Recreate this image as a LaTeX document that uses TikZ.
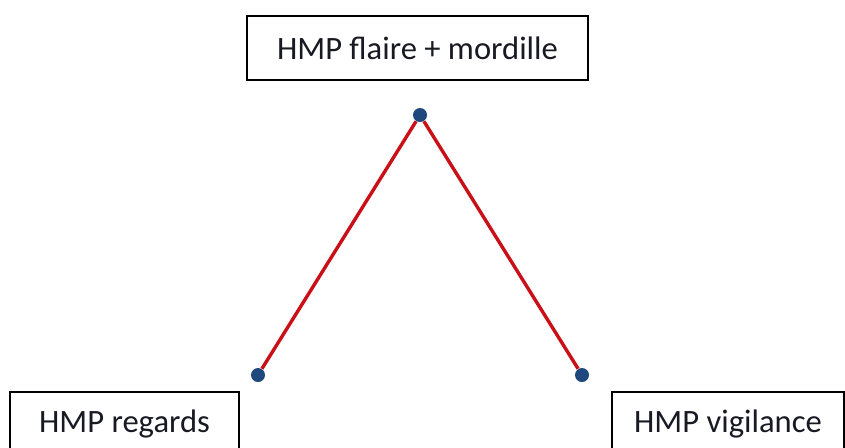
\documentclass[tikz,border=0pt]{standalone}
\usepackage{fontspec}
\setmainfont{Carlito}
\definecolor{linkred}{RGB}{200,16,22}
\definecolor{dotblue}{RGB}{31,73,125}
\definecolor{textdark}{RGB}{25,25,35}

\begin{document}
\begin{tikzpicture}[
    x=0.5pt, y=-0.5pt,
    box/.style={rectangle, draw, line width=1pt, minimum height=32pt,
                inner sep=0pt, text=textdark, font=\fontsize{16.3}{20}\selectfont},
    dot/.style={circle, fill=dotblue, inner sep=0pt, minimum size=7pt},
    link/.style={linkred, line width=1.7pt}
]
\useasboundingbox (0,0) rectangle (845,447);
\clip (0,0) rectangle (845,447);

% Kaesten
\node[box, minimum width=170.5pt] at (417.5,48) (flaire) {HMP flaire + mordille};
\node[box, minimum width=114.5pt] at (124.5,424) (regards) {HMP regards};
\node[box, minimum width=116pt] at (728,424) (vigilance) {HMP vigilance};

% Punkte
\node[dot] at (420,115) (ptop) {};
\node[dot] at (258,375) (pleft) {};
\node[dot] at (582,375) (pright) {};

% Verbindungen
\draw[link] (ptop) -- (pleft);
\draw[link] (ptop) -- (pright);
\end{tikzpicture}
\end{document}
